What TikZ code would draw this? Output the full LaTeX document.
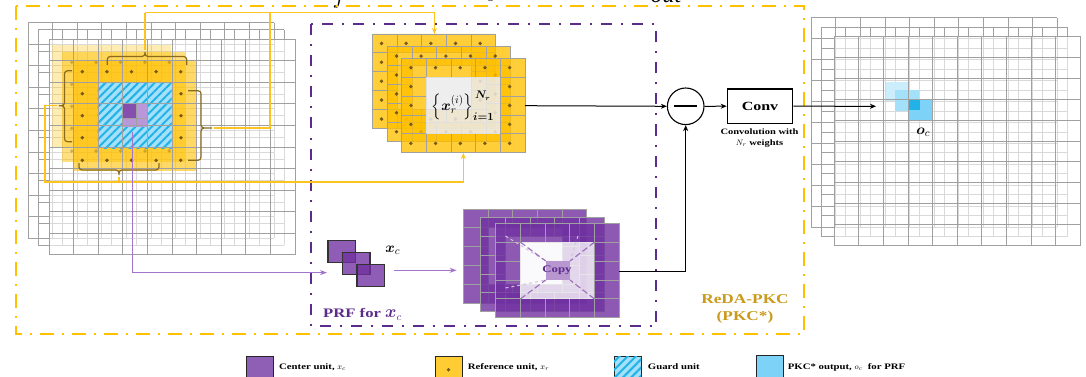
\documentclass[tikz,border=0pt]{standalone}
\usepackage{amsmath,bm}
\usepackage{fontspec}
\setmainfont{Liberation Serif}
\newfontfamily\wideserif[FakeStretch=1.28]{Liberation Serif}
\usetikzlibrary{arrows.meta,patterns.meta}
\definecolor{pkAmber}{HTML}{FFC000}
\definecolor{pkGold}{HTML}{FFC000}
\definecolor{pkFeed}{HTML}{FFC31F}
\definecolor{pkLabel}{HTML}{C99A1B}
\definecolor{pkPurple}{HTML}{7030A0}
\definecolor{pkDeep}{HTML}{5B2C8C}
\definecolor{pkLilac}{HTML}{A274CC}
\definecolor{pkGrid}{HTML}{A0A0A0}
\definecolor{pkBrace}{HTML}{8A6A1C}
\definecolor{pkSky}{HTML}{7CD3F7}
\definecolor{pkCyan}{HTML}{22B2E8}
\tikzset{
 gridline/.style={draw=pkGrid,line width=1pt},
 ringline/.style={draw=pkGrid,line width=.9pt},
 wash/.style={fill=white,fill opacity=.6},
 amberRing/.style={fill=pkAmber,fill opacity=.78},
 purpleRing/.style={fill=pkPurple,fill opacity=.8},
 refdot/.style={circle,fill=pkBrace!85!black,inner sep=0pt,minimum size=3.8pt},
 fadedot/.style={refdot,opacity=.35},
 bracket/.style={draw=pkBrace,line width=1.2pt,rounded corners=3pt},
 feed/.style={draw=pkFeed,line width=1.6pt},
 feedto/.style={feed,-{Stealth[length=6pt,width=5pt]}},
 lilac/.style={draw=pkLilac,line width=1.3pt},
 lilacto/.style={lilac,-{Stealth[length=7pt,width=5pt]}},
 flow/.style={draw=black,line width=1pt},
 flowto/.style={flow,-{Stealth[length=6pt,width=5pt]}},
 frameGold/.style={draw=pkGold,line width=2pt,dash pattern=on 14pt off 8pt on 2pt off 8pt},
 framePurple/.style={draw=pkDeep,line width=2pt,dash pattern=on 11pt off 9pt on 2pt off 9pt},
 guardfill/.style={fill=pkSky!70!white,postaction={pattern={Lines[angle=45,distance=5.8pt,line width=2pt]},pattern color=pkCyan}},
 xcbox/.style={draw=black!80,line width=1.1pt,fill=pkPurple,fill opacity=.78},
 swatch/.style={draw=black!85,line width=1pt},
 legendtext/.style={font=\wideserif\fontsize{8.4}{9}\selectfont\bfseries,anchor=west,inner sep=0pt},
 cuttext/.style={font=\fontsize{24}{26}\selectfont\itshape,anchor=base,inner sep=0pt}
}
\newcommand{\unitGrid}[3]{%
 \begin{scope}[shift={(#1,#2)}]
 \foreach \i in {0,...,10} \draw[gridline] ({\i*24.6},0)--({\i*24.6},{10*#3});
 \foreach \j in {0,...,10} \draw[gridline] (0,{\j*#3})--(246,{\j*#3});
 \end{scope}}
\newcommand{\unitRing}[3]{%
 \begin{scope}[shift={(#1,#2)}]
 \fill[#3,even odd rule] (0,0) rectangle (123.4,94.5) (24.7,18.9) rectangle (98.7,75.6);
 \draw[ringline] (0,0) rectangle (123.4,94.5) (24.7,18.9) rectangle (98.7,75.6);
 \foreach \i in {1,...,4} {
   \draw[ringline] ({\i*24.68},0)--({\i*24.68},18.9) ({\i*24.68},75.6)--({\i*24.68},94.5);
   \draw[ringline] (0,{\i*18.9})--(24.7,{\i*18.9}) (98.7,{\i*18.9})--(123.4,{\i*18.9});}
 \end{scope}}
\newcommand{\ringDots}[2]{%
 \begin{scope}[shift={(#1,#2)}]
 \foreach \i in {0,...,4} {
   \node[refdot] (dt\i) at ({9.2+\i*24.68},9.4) {};
   \node[refdot] (db\i) at ({9.2+\i*24.68},85.1) {};}
 \foreach \j in {1,2,3} {
   \node[refdot] (dl\j) at (9.2,{9.4+\j*18.9}) {};
   \node[refdot] (dr\j) at ({9.2+4*24.68},{9.4+\j*18.9}) {};}
 \end{scope}}
\begin{document}
\begin{tikzpicture}[x=1pt,y=-1pt]
 \clip (0,0) rectangle (1086,377);
 % text cut off by the top edge
 \node[cuttext] (cutF) at (340,3.5) {$f$};
 \node[cuttext] (cutY) at (493,-3) {$y$};
 \node[cuttext] (cutOut) at (666,3) {out};
 % input stack
 \unitGrid{28}{23}{21.5}
 \unitGrid{38}{30}{21.5}
 \fill[wash] (49,39.5) rectangle (295,254.5);
 \fill[pkAmber,fill opacity=.3] (52,45) rectangle (171,148);
 \fill[pkAmber,fill opacity=.5] (62,52) rectangle (185,162);
 \fill[pkAmber,fill opacity=.6] (73.3,60.3) rectangle (196,171);
 \fill[guardfill] (97.7,82.3) rectangle (171.6,148.3);
 \fill[pkLilac!75!white] (123,104.3) rectangle (146.7,126.7);
 \fill[pkPurple!85!white] (123,104.3) rectangle (136.5,118);
 \unitGrid{49}{39.5}{21.5}
 \draw[pkGrid,line width=.7pt] (136.5,104.3)--(136.5,126.7) (123,118)--(146.7,118);
 \foreach \i in {0,...,4} {
   \node[refdot] (inT\i) at ({82.3+\i*24.6},71.7) {};
   \node[refdot] (inB\i) at ({82.3+\i*24.6},160.3) {};
   \node[fadedot] (faT\i) at ({71.7+\i*24.4},62.3) {};
   \node[fadedot] (faB\i) at ({71.7+\i*24.4},151) {};}
 \foreach \j in {1,2,3} {
   \node[refdot] (inL\j) at (82.3,{71.7+\j*22}) {};
   \node[refdot] (inR\j) at (181,{71.7+\j*22}) {};
   \node[fadedot] (faL\j) at (71.7,{62.3+\j*22}) {};}
 % braces
 \draw[bracket] (107.3,65)--(107.3,56.5)--(145,56.5)--(145,50)--(145,56.5)--(186.7,56.5)--(186.7,65);
 \draw[bracket] (72,70.7)--(64.5,70.7)--(64.5,105.7)--(57,105.7)--(64.5,105.7)--(64.5,141.7)--(72,141.7);
 \draw[bracket] (188,90.7)--(201,90.7)--(201,128)--(214,128)--(201,128)--(201,160.3)--(188,160.3);
 \draw[bracket] (79,163)--(79,170)--(119,170)--(119,177)--(119,170)--(159,170)--(159,163);
 \coordinate (topTip) at (145,50);
 \coordinate (leftTip) at (57,105.7);
 \coordinate (rightTip) at (214,128);
 \coordinate (bottomTip) at (119,177);
 \coordinate (busTop) at (145,12.7);
 \coordinate (busRight) at (270,12.7);
 \coordinate (busLeft) at (45,181.7);
 \coordinate (busBottom) at (119,181.7);
 \coordinate (refTop) at (434.4,34);
 \coordinate (refBottom) at (463.4,153);
 \coordinate (refOut) at (525,105.7);
 \coordinate (centerTap) at (132.5,132);
 \coordinate (centerBus) at (132.5,272.6);
 \coordinate (xcIn) at (327,272.6);
 % frames
 \draw[frameGold] (16,6) rectangle (804,334);
 \draw[framePurple] (311,24.5) rectangle (656,326);
 % reference stack
 \unitRing{372.3}{34}{amberRing}
 \ringDots{372.3}{34}
 \unitRing{387.3}{46.7}{amberRing}
 \ringDots{387.3}{46.7}
 \unitRing{401.7}{58.3}{amberRing}
 \fill[white!92!black,fill opacity=.85] (426.4,77.2) rectangle (500.4,133.9);
 \ringDots{401.7}{58.3}
 \node[inner sep=0pt,font=\fontsize{15}{17}\selectfont] (refSet) at (463,106) {$\left\{\bm{x}_r^{(i)}\right\}_{\bm{i=1}}^{\,\bm{N_r}}$};
 % copy stack
 \unitRing{463.3}{209}{purpleRing}
 \unitRing{480.7}{217.3}{purpleRing}
 \unitRing{495.7}{223.3}{purpleRing}
 \fill[white!96!pkPurple,fill opacity=.8] (520.4,242.2) rectangle (594.4,298.9);
 \fill[pkPurple!50!white] (545.7,261) rectangle (570,280);
 \draw[pkPurple!30!white,line width=1pt,dashed] (505.5,236)--(545.7,261) (578,236)--(570,261) (505.5,288)--(545.7,280);
 \draw[pkPurple!70!white,line width=1.1pt,dash pattern=on 6pt off 3pt] (520.4,242.2)--(545.7,261) (594.4,242.2)--(570,261) (520.4,298.9)--(545.7,280) (594.4,298.9)--(570,280);
 \node[inner sep=0pt,font=\wideserif\fontsize{10}{12}\selectfont\bfseries,text=pkDeep] (copyText) at (557,270) {Copy};
 \coordinate (copyOut) at (619.3,271);
 % center unit stack
 \node[xcbox,minimum width=27.3pt,minimum height=22.4pt,inner sep=0pt] (xcA) at (341.6,251.5) {};
 \node[xcbox,minimum width=27.3pt,minimum height=22.4pt,inner sep=0pt] (xcB) at (356.3,263.6) {};
 \node[xcbox,minimum width=27.3pt,minimum height=22.4pt,inner sep=0pt] (xcC) at (370.6,275.5) {};
 \node[inner sep=0pt,font=\fontsize{15}{18}\selectfont] (xcText) at (392.7,250.5) {$\bm{x}_c$};
 \coordinate (xcOut) at (394,270.3);
 \coordinate (copyIn) at (456.7,270.3);
 \node[inner sep=0pt,font=\wideserif\fontsize{13}{16}\selectfont\bfseries,text=pkDeep] (prfText) at (362.5,314.5) {PRF for {\fontsize{16}{18}\selectfont$\bm{x}_c$}};
 \node[inner sep=0pt,align=center,font=\wideserif\fontsize{13.5}{17}\selectfont\bfseries,text=pkLabel] (redaText) at (745,309) {ReDA-PKC\\(PKC*)};
 % subtraction and convolution
 \node[circle,draw=black,line width=1.1pt,fill=white,minimum size=36.6pt,inner sep=0pt] (minus) at (685.7,106.3) {};
 \draw[line width=2pt] (674,106.3)--(697,106.3);
 \node[draw=black,line width=1.2pt,fill=white,minimum width=65.4pt,minimum height=34.3pt,inner sep=0pt,font=\wideserif\fontsize{12.5}{14}\selectfont\bfseries] (conv) at (760,106.2) {Conv};
 \node[inner sep=0pt,align=center,font=\wideserif\fontsize{8.2}{11}\selectfont\bfseries] (convNote) at (759.5,138) {Convolution with\\$N_r$ weights};
 \draw[flowto] (refOut)--(minus.west);
 \draw[flowto] (minus.east)--(conv.west);
 \draw[flowto] (copyOut)-|(minus.south);
 % output stack
 \unitGrid{811.3}{18}{20.94}
 \unitGrid{821.3}{27.3}{20.94}
 \fill[wash] (834.3,36.3) rectangle (1080.3,245.7);
 \fill[pkSky!40!white] (885.7,81.7) rectangle (908,101);
 \fill[pkSky!70!white] (895,90) rectangle (919.3,110.7);
 \fill[pkSky] (909,99.3) rectangle (932.3,120);
 \fill[pkCyan] (909,99.3) rectangle (920,110);
 \unitGrid{834.3}{36.3}{20.94}
 \node[inner sep=0pt,font=\fontsize{15}{18}\selectfont] (ocText) at (923.3,132) {$\bm{o}_c$};
 \coordinate (ocIn) at (876,106.3);
 \draw[flowto] (conv.east)--(ocIn);
 % connectors
 \draw[feed] (topTip)--(busTop);
 \draw[feedto] (busTop)-|(refTop);
 \draw[feed] (rightTip)-|(busRight);
 \draw[feed] (bottomTip)--(busBottom);
 \draw[feedto] (leftTip)-|(busLeft)-|(refBottom);
 \draw[lilac] (centerTap)--(centerBus);
 \draw[lilacto] (centerBus)--(xcIn);
 \draw[lilacto] (xcOut)--(copyIn);
 % legend
 \node[swatch,fill=pkPurple!78!white,minimum width=27pt,minimum height=27pt,inner sep=0pt,anchor=north west] (keyCenter) at (246,355.7) {};
 \node[legendtext,anchor=west] (keyCenterText) at (279,367) {Center unit, $x_c$};
 \node[swatch,fill=pkAmber!80!white,minimum width=27pt,minimum height=27pt,inner sep=0pt,anchor=north west] (keyRef) at (434.5,355.7) {};
 \node[refdot] (keyRefDot) at (keyRef.center) {};
 \node[legendtext] (keyRefText) at (467.7,367) {Reference unit, $x_r$};
 \node[swatch,guardfill,minimum width=27pt,minimum height=27pt,inner sep=0pt,anchor=north west] (keyGuard) at (613.5,355.7) {};
 \node[legendtext] (keyGuardText) at (647.7,367) {Guard unit};
 \node[swatch,fill=pkSky,minimum width=27pt,minimum height=27pt,inner sep=0pt,anchor=north west] (keyOut) at (755.5,354.5) {};
 \node[legendtext] (keyOutText) at (787.7,367) {PKC* output, $o_c$ \ for PRF};
\end{tikzpicture}
\end{document}
